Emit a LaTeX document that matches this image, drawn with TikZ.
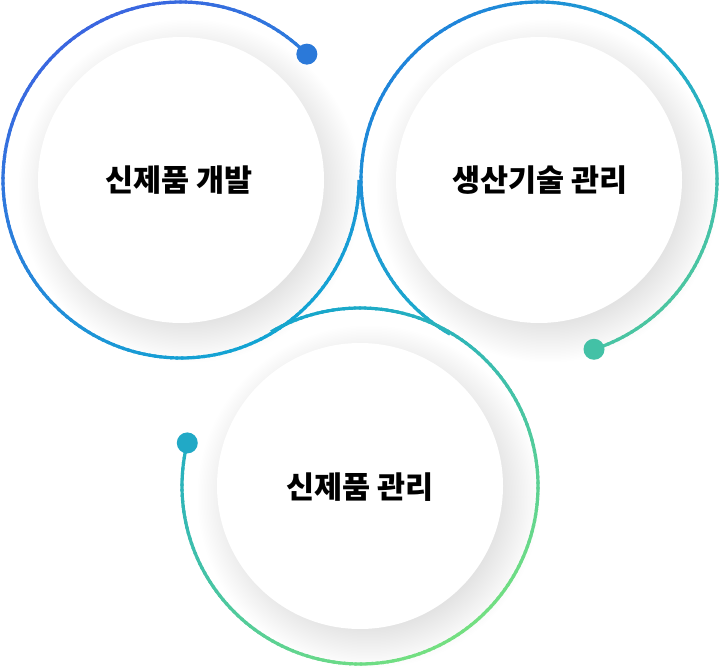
\documentclass[tikz,border=0pt]{standalone}
\usepackage{fontspec}
\newfontfamily\krfont{Noto Sans CJK KR}
\definecolor{oneA}{HTML}{3A66E0}
\definecolor{oneM}{HTML}{2685DA}
\definecolor{oneB}{HTML}{12A4D3}
\definecolor{twoA}{HTML}{1F84DA}
\definecolor{twoM}{HTML}{1CA8CE}
\definecolor{twoB}{HTML}{4CC6A0}
\definecolor{thrA}{HTML}{16A6CC}
\definecolor{thrM}{HTML}{45C3A6}
\definecolor{thrB}{HTML}{74E080}
\definecolor{dotone}{HTML}{2B79D9}
\definecolor{dottwo}{HTML}{43C1A6}
\definecolor{dotthr}{HTML}{21A9C6}
\tikzset{
  ringseg/.style={line width=3.2pt, line cap=butt},
  labeltext/.style={font=\krfont\bfseries\fontsize{30.5}{34}\selectfont, text=black, inner sep=0pt},
  dotnode/.style={circle, inner sep=0pt, minimum size=21pt, draw=none},
  shadowlayer/.style={fill=black, opacity=0.0021},
  innerdisc/.style={fill=white}
}
\newcommand\gradring[7]{%
  \pgfmathsetmacro\gstep{((#3)-(#2))/180}%
  \foreach \k in {0,...,179}{%
    \pgfmathsetmacro\gta{(#2)+\k*\gstep}%
    \pgfmathsetmacro\gtb{(#2)+(\k+1.4)*\gstep}%
    \pgfmathtruncatemacro\gp{50*(1+cos((\gta+\gtb)/2-(#7)))}%
    \ifnum\gp<50
      \pgfmathtruncatemacro\gq{2*\gp}\def\gcol{#5!\gq!#4}%
    \else
      \pgfmathtruncatemacro\gq{2*(\gp-50)}\def\gcol{#6!\gq!#5}%
    \fi
    \draw[ringseg, color=\gcol, shift={(#1)}] (\gta:178pt) arc[start angle=\gta, end angle=\gtb, radius=178pt];
  }%
}
\begin{document}
\begin{tikzpicture}[x=1pt,y=1pt]
\fill[white] (0,0) rectangle (720,667);
\useasboundingbox (0,0) rectangle (720,667);
\coordinate (c1) at (181,487);
\coordinate (c2) at (539,487);
\coordinate (c3) at (360,181);
% soft shadows
\foreach \c in {c1,c2,c3}{
  \foreach \j in {0,...,27}{
    \fill[shadowlayer, shift={(\c)}] (9,-11) circle[radius=131pt+1.5pt*\j];
  }
}
% inner white discs
\fill[innerdisc] (c1) circle[radius=143pt];
\fill[innerdisc] (c2) circle[radius=143pt];
\fill[innerdisc] (c3) circle[radius=143pt];
% gradient rings
\gradring{c1}{360}{45}{oneA}{oneM}{oneB}{-60}
\gradring{c2}{240}{-72}{twoA}{twoM}{twoB}{-45}
\gradring{c3}{480}{166}{thrA}{thrM}{thrB}{-60}
% end dots
\node[dotnode, fill=dotone] (d1) at ([shift={(45:178pt)}]c1) {};
\node[dotnode, fill=dottwo] (d2) at ([shift={(-72:178pt)}]c2) {};
\node[dotnode, fill=dotthr] (d3) at ([shift={(166:178pt)}]c3) {};
% labels
\node[labeltext] (t1) at ([xshift=-2pt]c1) {신제품 개발};
\node[labeltext] (t2) at ([xshift=1pt]c2) {생산기술 관리};
\node[labeltext] (t3) at ([yshift=-1pt]c3) {신제품 관리};
\end{tikzpicture}
\end{document}
